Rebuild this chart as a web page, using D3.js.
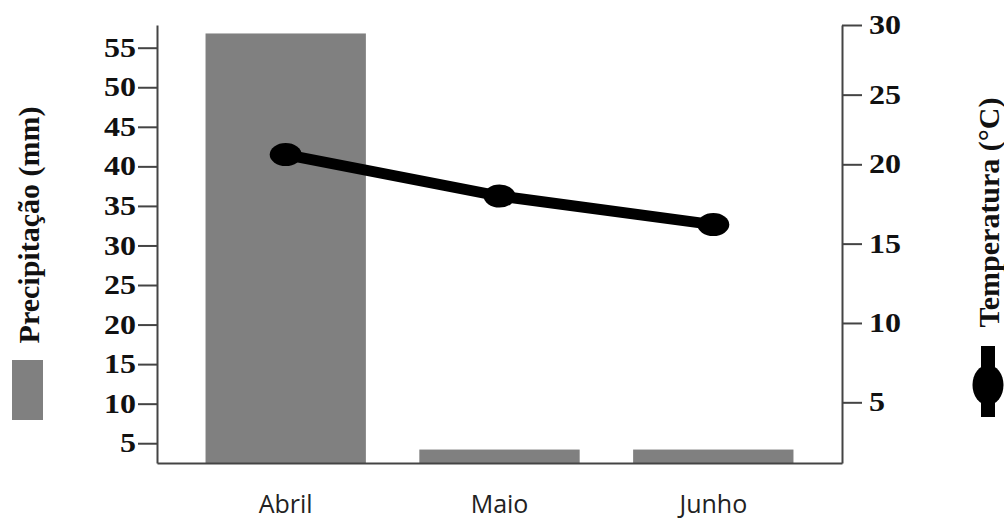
<!DOCTYPE html>
<html>
<head>
<meta charset="utf-8">
<script src="https://cdn.jsdelivr.net/npm/d3@7"></script>
<style>
  html, body { margin: 0; padding: 0; background: #fff; }
  svg { display: block; }
</style>
</head>
<body>
<svg id="chart" width="1004" height="519"></svg>
<script>
const months = ["Abril", "Maio", "Junho"];
const precipitation = [56.8, 4.2, 4.2];
const temperature = [20.7, 18.0, 16.2];
const precipTicks = [5, 10, 15, 20, 25, 30, 35, 40, 45, 50, 55];
const tempTicks = [5, 10, 15, 20, 25, 30];

const svg = d3.select("#chart");
const plotLeft = 157, plotRight = 842, plotTop = 25, plotBottom = 463;

const x = d3.scaleBand().domain(months).range([plotLeft, plotRight])
  .paddingInner(0.25).paddingOuter(0.227);
const yL = d3.scaleLinear().domain([2.5, 57.87]).range([plotBottom, plotTop]);
const yR = d3.scaleLinear().domain([1.175, 20, 30]).range([plotBottom, 164.3, plotTop]);

const axisColor = "#444";
const serif = "'Liberation Serif', 'Times New Roman', serif";

// bars
svg.append("g").selectAll("rect").data(months).join("rect")
  .attr("x", d => x(d))
  .attr("width", x.bandwidth())
  .attr("y", (d, i) => yL(precipitation[i]))
  .attr("height", (d, i) => yL(2.5) - yL(precipitation[i]))
  .attr("fill", "#808080");

// left axis
const gL = svg.append("g").attr("transform", `translate(${plotLeft},0)`)
  .call(d3.axisLeft(yL).tickValues(precipTicks).tickSize(19).tickSizeOuter(0).tickPadding(2));
// right axis
const gR = svg.append("g").attr("transform", `translate(${plotRight},0)`)
  .call(d3.axisRight(yR).tickValues(tempTicks).tickSize(20).tickSizeOuter(0).tickPadding(7));
[gL, gR].forEach(g => {
  g.select(".domain").attr("stroke", axisColor).attr("stroke-width", 2);
  g.selectAll(".tick line").attr("stroke", axisColor).attr("stroke-width", 2);
  g.selectAll(".tick text").attr("font-family", serif).attr("font-weight", "bold")
    .attr("font-size", 27).attr("fill", "#111")
    .attr("textLength", d => String(d).length * 16)
    .attr("lengthAdjust", "spacingAndGlyphs");
});

// bottom axis
const gB = svg.append("g").attr("transform", `translate(0,${plotBottom})`)
  .call(d3.axisBottom(x).tickSize(0).tickSizeOuter(0).tickPadding(32));
gB.select(".domain").attr("stroke", axisColor).attr("stroke-width", 2);
gB.selectAll(".tick text").attr("font-family", "'Open Sans', sans-serif")
  .attr("font-size", 25).attr("fill", "#222");

// temperature line
const cx = (d, i) => x(months[i]) + x.bandwidth() / 2;
svg.append("path").datum(temperature)
  .attr("fill", "none").attr("stroke", "#000").attr("stroke-width", 11)
  .attr("d", d3.line().x(cx).y(d => yR(d)));
svg.append("g").selectAll("ellipse").data(temperature).join("ellipse")
  .attr("cx", cx).attr("cy", d => yR(d))
  .attr("rx", 16).attr("ry", 11.5).attr("fill", "#000");

// axis titles
svg.append("text").attr("transform", "translate(39,225) rotate(-90)")
  .attr("text-anchor", "middle").attr("font-family", serif).attr("font-weight", "bold")
  .attr("font-size", 30).attr("fill", "#111").text("Precipitação (mm)");
svg.append("text").attr("transform", "translate(999,212.5) rotate(-90)")
  .attr("text-anchor", "middle").attr("font-family", serif).attr("font-weight", "bold")
  .attr("font-size", 30).attr("fill", "#111").text("Temperatura (°C)");

// legend symbols
svg.append("rect").attr("x", 12).attr("y", 360).attr("width", 31).attr("height", 60)
  .attr("fill", "#808080");
svg.append("rect").attr("x", 981).attr("y", 346).attr("width", 14).attr("height", 71)
  .attr("fill", "#000");
svg.append("ellipse").attr("cx", 988).attr("cy", 385).attr("rx", 15.5).attr("ry", 20)
  .attr("fill", "#000");
</script>
</body>
</html>
